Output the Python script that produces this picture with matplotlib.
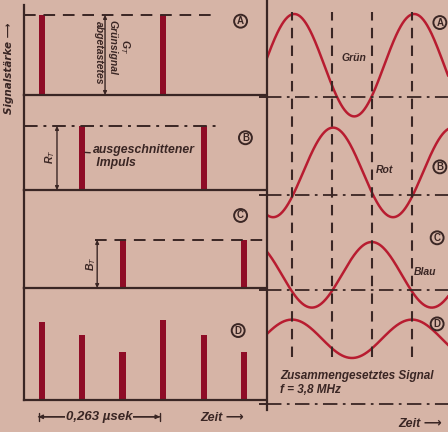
import numpy as np
import matplotlib
matplotlib.use("Agg")
import matplotlib.pyplot as plt

# sample pulses (left side), times in microseconds, heights relative to G_T
period = 0.263
sample_step = period / 3
green_times = [0.0, period]
red_times = [sample_step, period + sample_step]
blue_times = [2 * sample_step, period + 2 * sample_step]
green_level = 1.0
red_level = 0.8
blue_level = 0.6
mixed_times = [0.0, 0.0877, 0.1753, 0.263, 0.3507, 0.4383]
mixed_heights = [0.98, 0.81, 0.60, 1.0, 0.81, 0.60]

# waveforms (right side): centre, amplitude, time of peak, zero line
wave_names = ["Grün", "Rot", "Blau", "Zusammengesetztes"]
wave_center = [4.31, 2.97, 1.69, 0.89]
wave_amp = [0.64, 0.56, 0.41, 0.24]
wave_peak = [0.005, 0.090, 0.175, 0.0]
wave_zero = [3.91, 2.69, 1.50, 0.075]
mark_times = [0.0, 0.0877, 0.1753, 0.263]

paper = "#d6b4a6"
ink = "#3a2624"
bar_red = "#8e0c26"
wave_red = "#b81c30"
fnt = ["Liberation Sans", "DejaVu Sans"]

W, H = 448, 432
fig = plt.figure(figsize=(W / 100, H / 100), dpi=100, facecolor=paper)


def rect(x0, y0, x1, y1):
    return [x0 / W, 1 - y1 / H, (x1 - x0) / W, (y1 - y0) / H]


def circled(ax, x, y, s):
    ax.text(x, y, s, fontsize=7, fontweight="bold", color=ink, ha="center", va="center",
            transform=ax.transAxes, family=fnt,
            bbox=dict(boxstyle="circle,pad=0.15", fc="none", ec=ink, lw=1.4), clip_on=False)


px_per_unit = 80
xl = (-0.0314, 0.4924)
rows = [(5, 95), (95, 190), (190, 288), (288, 400)]
axs = []
for top, bot in rows:
    ax = fig.add_axes(rect(24, top, 266, bot))
    ax.set_facecolor("none")
    ax.set_xlim(*xl)
    ax.set_ylim(0, (bot - top) / px_per_unit)
    for s in ["top", "right"]:
        ax.spines[s].set_visible(False)
    for s in ["left", "bottom"]:
        ax.spines[s].set_color(ink)
        ax.spines[s].set_linewidth(1.6)
    ax.set_xticks([])
    ax.set_yticks([])
    axs.append(ax)

bw = 0.013
txt = dict(color=ink, family=fnt, fontstyle="italic", fontweight="bold")

# A - green
ax = axs[0]
ax.bar(green_times, [green_level] * 2, width=bw, color=bar_red, align="edge")
ax.hlines(green_level, xl[0], 0.376, color=ink, lw=1.4, linestyles=(0, (6, 4)))
ax.annotate("", xy=(0.144, 0), xytext=(0.144, green_level),
            arrowprops=dict(arrowstyle="<|-|>", color=ink, lw=1, mutation_scale=5, shrinkA=0, shrinkB=0))
ax.text(0.131, 0.53, "abgetastetes", rotation=-90, fontsize=7.5, ha="center", va="center", **txt)
ax.text(0.160, 0.6, "Grünsignal", rotation=-90, fontsize=7.5, ha="center", va="center", **txt)
ax.text(0.188, 0.6, "G$_T$", rotation=-90, fontsize=7.5, ha="center", va="center", **txt)
circled(ax, 0.895, 0.82, "A")

# B - red
ax = axs[1]
ax.bar(red_times, [red_level] * 2, width=bw, color=bar_red, align="edge")
ax.hlines(red_level, xl[0], 0.389, color=ink, lw=1.4, linestyles=(0, (7, 3, 1.5, 3)))
ax.annotate("", xy=(0.040, 0), xytext=(0.040, red_level),
            arrowprops=dict(arrowstyle="<|-|>", color=ink, lw=1, mutation_scale=5, shrinkA=0, shrinkB=0))
ax.text(0.026, 0.42, "R$_T$", rotation=90, fontsize=7.5, ha="center", va="center", **txt)
ax.annotate("ausgeschnittener\n Impuls", xy=(red_times[0] + bw, 0.47), xytext=(0.118, 0.42),
            fontsize=8.8, ha="left", va="center", linespacing=1.15,
            arrowprops=dict(arrowstyle="-", color=ink, lw=1, shrinkA=0, shrinkB=0), **txt)
circled(ax, 0.915, 0.55, "B")

# C - blue
ax = axs[2]
ax.bar(blue_times, [blue_level] * 2, width=bw, color=bar_red, align="edge")
ax.hlines(blue_level, 0.122, xl[1], color=ink, lw=1.4, linestyles=(0, (6, 4)))
ax.annotate("", xy=(0.127, 0), xytext=(0.127, blue_level),
            arrowprops=dict(arrowstyle="<|-|>", color=ink, lw=1, mutation_scale=5, shrinkA=0, shrinkB=0))
ax.text(0.114, 0.3, "B$_T$", rotation=90, fontsize=7.5, ha="center", va="center", **txt)
circled(ax, 0.895, 0.74, "C")

# D - all pulses
ax = axs[3]
ax.bar(mixed_times, mixed_heights, width=bw, color=bar_red, align="edge")
circled(ax, 0.885, 0.62, "D")
ax.annotate("", xy=(0.0, -0.21), xytext=(period, -0.21), annotation_clip=False,
            arrowprops=dict(arrowstyle="|-|", color=ink, lw=1, mutation_scale=3, shrinkA=0, shrinkB=0))
ax.annotate("", xy=(0.0, -0.21), xytext=(period, -0.21), annotation_clip=False,
            arrowprops=dict(arrowstyle="<|-|>", color=ink, lw=1, mutation_scale=6, shrinkA=0, shrinkB=0))
ax.text(period / 2, -0.21, "0,263 µsek", fontsize=9.5, ha="center", va="center",
        bbox=dict(fc=paper, ec="none", pad=0.5), clip_on=False, **txt)
ax.text(0.397, -0.23, "Zeit ⟶", fontsize=9, ha="center", va="center", clip_on=False, **txt)

fig.text(9 / W, 1 - 68 / H, "Signalstärke ⟶", rotation=90, fontsize=7.5, ha="center", va="center",
         color=ink, family=["DejaVu Sans"], fontstyle="italic", fontweight="bold")

# right panel: waveforms
axr = fig.add_axes(rect(267, 0, W, 410))
axr.set_facecolor("none")
rx = ((267 - 292) / 456, (W - 292) / 456)
axr.set_xlim(*rx)
axr.set_ylim(0, 410 / px_per_unit)
for s in ["top", "right", "bottom"]:
    axr.spines[s].set_visible(False)
axr.spines["left"].set_color(ink)
axr.spines["left"].set_linewidth(1.6)
axr.set_xticks([])
axr.set_yticks(wave_zero)
axr.set_yticklabels([])
axr.tick_params(axis="y", direction="out", length=6, width=1.4, color=ink)

t = np.linspace(rx[0], rx[1], 400)
for c, a, p, z in zip(wave_center, wave_amp, wave_peak, wave_zero):
    axr.plot(t, c + a * np.cos(2 * np.pi * (t - p) / period), color=wave_red, lw=1.8)
    axr.axhline(z, color=ink, lw=1.3, ls=(0, (8, 3, 1.5, 3)))
axr.vlines(mark_times, 0.66, 4.98, color=ink, lw=1.5, linestyles=(0, (5, 3.5)))

axr.text(0.135, 4.4, wave_names[0], fontsize=7.5, ha="center", va="center", **txt)
axr.text(0.202, 3.0, wave_names[1], fontsize=7.5, ha="center", va="center", **txt)
axr.text(0.291, 1.73, wave_names[2], fontsize=7.5, ha="center", va="center", **txt)
axr.text(-0.026, 0.34, "Zusammengesetztes Signal\nf = 3,8 MHz", fontsize=8.5, ha="left",
         va="center", linespacing=1.2, **txt)
axr.text(0.28, -0.17, "Zeit ⟶", fontsize=9, ha="center", va="center", clip_on=False, **txt)
circled(axr, 0.955, 0.945, "A")
circled(axr, 0.955, 0.593, "B")
circled(axr, 0.94, 0.42, "C")
circled(axr, 0.94, 0.21, "D")

fig.savefig("out.png", dpi=100, facecolor=paper)
